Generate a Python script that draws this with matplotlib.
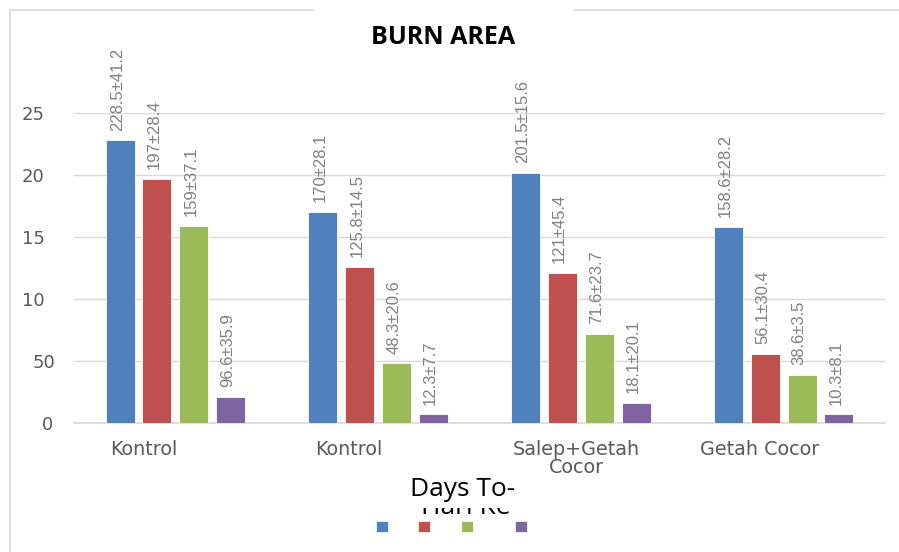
import matplotlib.pyplot as plt
import numpy as np
from matplotlib.patches import Rectangle
from matplotlib.lines import Line2D
from matplotlib.transforms import ScaledTranslation, Bbox, TransformedBbox

# Kelompok perlakuan
kelompok = ['Kontrol', 'Kontrol', 'Salep+Getah\nCocor', 'Getah Cocor']

# Tinggi batang (skala sumbu) untuk tiap hari pengamatan
hari_1 = [22.8, 17.0, 20.2, 15.8]
hari_2 = [19.7, 12.6, 12.1, 5.6]
hari_3 = [15.9, 4.8, 7.2, 3.9]
hari_4 = [2.1, 0.7, 1.6, 0.7]

# Label nilai (rata-rata ± SD)
label_1 = ['228.5±41.2', '170±28.1', '201.5±15.6', '158.6±28.2']
label_2 = ['197±28.4', '125.8±14.5', '121±45.4', '56.1±30.4']
label_3 = ['159±37.1', '48.3±20.6', '71.6±23.7', '38.6±3.5']
label_4 = ['96.6±35.9', '12.3±7.7', '18.1±20.1', '10.3±8.1']

# Label sumbu y
y_ticks = [0, 5, 10, 15, 20, 25]
y_labels = ['0', '50', '10', '15', '20', '25']

warna = ['#4F81BD', '#C0504D', '#9BBB59', '#8064A2']
abu = '#595959'

W, H = 899, 552
fig = plt.figure(figsize=(W / 100, H / 100), dpi=100)
ax = fig.add_axes([74 / W, 1 - 423 / H, (885 - 74) / W, (423 - 113) / H])

x = np.arange(len(kelompok))
jarak = 0.182
lebar = 0.143
semua = [hari_1, hari_2, hari_3, hari_4]
semua_label = [label_1, label_2, label_3, label_4]

for i, (nilai, lbl) in enumerate(zip(semua, semua_label)):
    pos = x + (i - 1.5) * jarak
    ax.bar(pos, nilai, width=lebar, color=warna[i], edgecolor='white',
           linewidth=0.6, zorder=3)
    for px, v, t in zip(pos, nilai, lbl):
        ax.annotate(t, (px, v), xytext=(-2, 7), textcoords='offset points',
                    rotation=90, ha='center', va='bottom', fontsize=12,
                    color='#808080', family='Liberation Sans',
                    annotation_clip=False)

ax.set_xlim(-0.5, 3.5)
ax.set_ylim(0, 25)
ax.set_yticks(y_ticks)
ax.set_yticklabels(y_labels, fontsize=13, color=abu, family='DejaVu Sans')
ax.tick_params(axis='y', length=0, pad=21)
# label "0" dan "50" sedikit bergeser ke kanan
for lbl, dx in zip(ax.get_yticklabels()[:2], [8, 10]):
    lbl.set_transform(lbl.get_transform() +
                      ScaledTranslation(dx / 100, 0, fig.dpi_scale_trans))
ax.set_xticks([])
ax.yaxis.grid(True, color='#D9D9D9', linewidth=1.0, zorder=0)
for s in ['top', 'right', 'left']:
    ax.spines[s].set_visible(False)
ax.spines['bottom'].set_color('#D9D9D9')
ax.spines['bottom'].set_linewidth(1.2)

# Label kategori (posisi mengikuti tata letak asli)
pos_label = [-0.155, 0.856, 1.976, 2.883]
for px, t in zip(pos_label, kelompok):
    ax.text(px, -1.35, t, ha='center', va='top', fontsize=13.8, color=abu,
            family='DejaVu Sans', linespacing=0.92)

# Judul
fig.text(443 / W, 1 - 37 / H, 'BURN AREA', ha='center', va='center',
         fontsize=18, fontweight='bold', family='Open Sans')

# Judul sumbu: baris kedua tertutup sebagian oleh baris pertama
hari = fig.text(466 / W, 1 - 514 / H, 'Hari Ke', ha='center', va='baseline',
                fontsize=19, family='Open Sans')
potong = TransformedBbox(Bbox([[0, 0], [1, 1 - 508 / H]]), fig.transFigure)
hari.set_clip_box(potong)
hari.set_clip_on(True)
fig.text(463 / W, 1 - 490 / H, 'Days To-', ha='center', va='center',
         fontsize=19, family='Open Sans')

# Kotak legenda
legenda_x = [382, 424, 467, 521]
for lx, c in zip(legenda_x, warna):
    fig.patches.append(Rectangle(((lx - 6) / W, 1 - 532 / H), 12 / W, 11 / H,
                                 transform=fig.transFigure, facecolor=c,
                                 edgecolor='white', linewidth=0.5))

# Garis bingkai area grafik
garis = '#D9D9D9'
fig.lines.append(Line2D([10 / W, 313 / W], [1 - 10 / H, 1 - 10 / H],
                        transform=fig.transFigure, color=garis, linewidth=1.2))
fig.lines.append(Line2D([574 / W, 1], [1 - 10 / H, 1 - 10 / H],
                        transform=fig.transFigure, color=garis, linewidth=1.2))
fig.lines.append(Line2D([10 / W, 10 / W], [0, 1 - 10 / H],
                        transform=fig.transFigure, color=garis, linewidth=1.2))

fig.savefig('out.png', dpi=100)
